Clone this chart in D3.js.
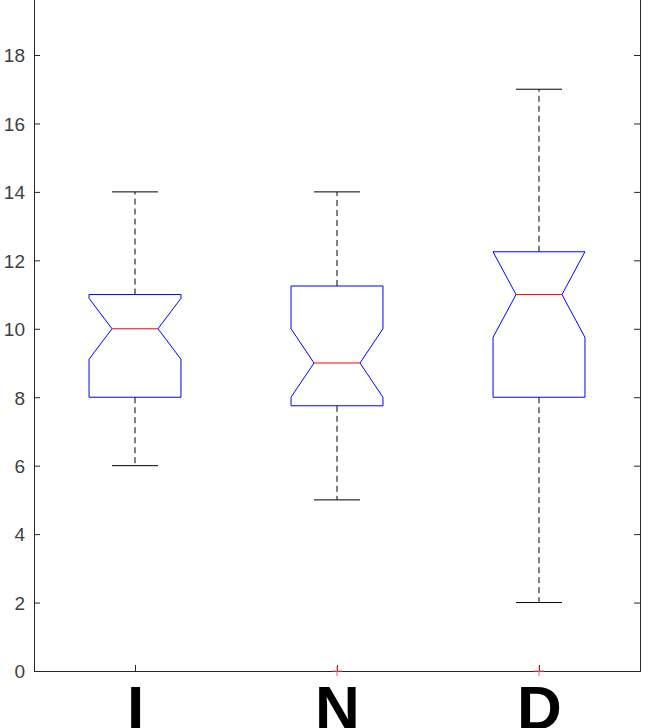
<!DOCTYPE html>
<html>
<head>
<meta charset="utf-8">
<script src="https://cdn.jsdelivr.net/npm/d3@7"></script>
<style>
  html, body { margin: 0; padding: 0; background: #fff; overflow: hidden; }
  svg { display: block; }
</style>
</head>
<body>
<script>
// ---- data ----
const categories = ["I", "N", "D"];
const q1 = [8, 7.75, 8];
const medians = [10, 9, 11];
const q3 = [11, 11.25, 12.25];
const notchLo = [9.11, 8, 9.75];
const notchHi = [10.89, 10, 12.25];
const whiskerLo = [6, 5, 2];
const whiskerHi = [14, 14, 17];
const outliers = [[], [0], [0]];
const yTicks = [0, 2, 4, 6, 8, 10, 12, 14, 16, 18];

const W = 663, H = 728;
const left = 34, right = 640, bottom = 671;
const unit = (671 - 55) / 18;

const svg = d3.select("body").append("svg").attr("width", W).attr("height", H);

const x = d3.scaleLinear().domain([0.5, 3.5]).range([left, right]);
const y = d3.scaleLinear().domain([0, 20]).range([bottom, bottom - 20 * unit]);

const boxHalf = 0.2275; // data units
const font = "'Liberation Sans', Arial, sans-serif";
const axisColor = "#262626";

// axes
const gL = svg.append("g").attr("transform", `translate(${left},0)`)
  .call(d3.axisLeft(y).tickValues(yTicks).tickSize(-6).tickPadding(9).tickFormat(d3.format("d")));
const gR = svg.append("g").attr("transform", `translate(${right},0)`)
  .call(d3.axisRight(y).tickValues(yTicks).tickSize(-6).tickFormat(""));
const gB = svg.append("g").attr("transform", `translate(0,${bottom})`)
  .call(d3.axisBottom(x).tickValues([1, 2, 3]).tickSize(-6).tickPadding(12).tickFormat((d, i) => categories[i]));

[gL, gR, gB].forEach(g => {
  g.select(".domain").attr("stroke", axisColor).attr("stroke-width", 1);
  g.selectAll(".tick line").attr("stroke", axisColor).attr("stroke-width", 1);
});
gL.selectAll(".tick text").attr("font-family", font).attr("font-size", 19).attr("fill", "#404040")
  .attr("dy", "0.36em");
gB.selectAll(".tick text").attr("font-family", font).attr("font-size", 62).attr("font-weight", "bold")
  .attr("fill", "#000").attr("dy", 0).attr("y", 58);

const plot = svg.append("g");

categories.forEach((c, i) => {
  const cx = i + 1;
  const xl = x(cx - boxHalf), xr = x(cx + boxHalf);
  const inset = (xr - xl) / 4;
  const g = plot.append("g");
  // whiskers
  g.append("line").attr("x1", x(cx)).attr("x2", x(cx)).attr("y1", y(q3[i])).attr("y2", y(whiskerHi[i]))
    .attr("stroke", "#000").attr("stroke-width", 1).attr("stroke-dasharray", "6,4");
  g.append("line").attr("x1", x(cx)).attr("x2", x(cx)).attr("y1", y(q1[i])).attr("y2", y(whiskerLo[i]))
    .attr("stroke", "#000").attr("stroke-width", 1).attr("stroke-dasharray", "6,4");
  // caps
  [whiskerHi[i], whiskerLo[i]].forEach(v => {
    g.append("line").attr("x1", x(cx - boxHalf / 2)).attr("x2", x(cx + boxHalf / 2))
      .attr("y1", y(v)).attr("y2", y(v)).attr("stroke", "#000").attr("stroke-width", 1);
  });
  // notched box
  const pts = [
    [xl, y(q1[i])], [xl, y(notchLo[i])], [xl + inset, y(medians[i])], [xl, y(notchHi[i])], [xl, y(q3[i])],
    [xr, y(q3[i])], [xr, y(notchHi[i])], [xr - inset, y(medians[i])], [xr, y(notchLo[i])], [xr, y(q1[i])]
  ];
  g.append("path").attr("d", d3.line()(pts) + "Z").attr("fill", "none")
    .attr("stroke", "#0000ff").attr("stroke-width", 1);
  // median
  g.append("line").attr("x1", xl + inset).attr("x2", xr - inset)
    .attr("y1", y(medians[i])).attr("y2", y(medians[i])).attr("stroke", "#ff0000").attr("stroke-width", 1);
  // outliers
  outliers[i].forEach(v => {
    const px = x(cx), py = y(v), s = 5;
    g.append("path").attr("d", `M${px - s},${py}H${px + s}M${px},${py - s}V${py + s}`)
      .attr("stroke", "#ff5a6e").attr("stroke-width", 1).attr("fill", "none");
  });
});
</script>
</body>
</html>
